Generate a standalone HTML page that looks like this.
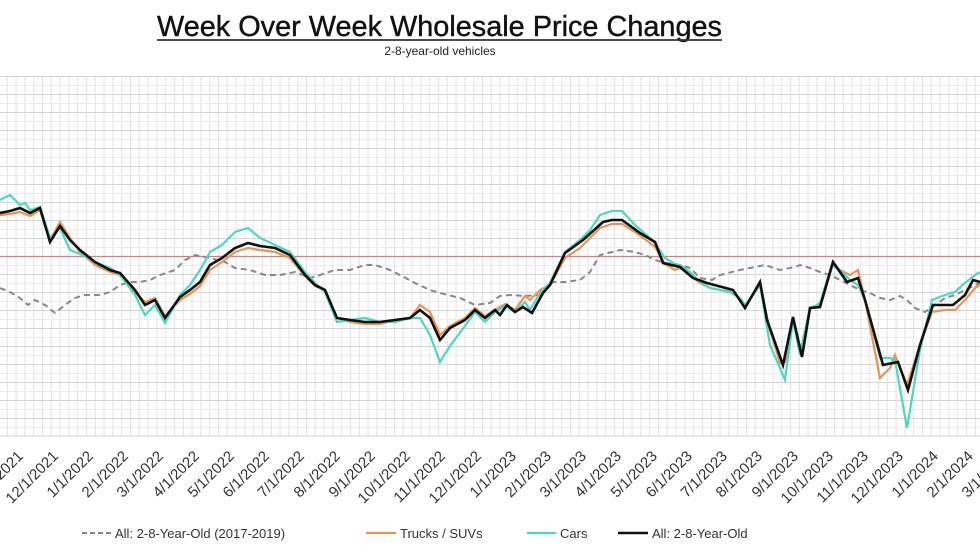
<!DOCTYPE html>
<html><head><meta charset="utf-8"><style>
body{margin:0;background:#fff;width:980px;height:552px;overflow:hidden;font-family:"Liberation Sans",sans-serif}
</style></head><body>
<svg width="980" height="552" xmlns="http://www.w3.org/2000/svg" font-family="Liberation Sans, sans-serif">
<defs>
<pattern id="vg" x="-2" y="0" width="8.8" height="552" patternUnits="userSpaceOnUse"><line x1="0.5" y1="0" x2="0.5" y2="552" stroke="#e2e2e2" stroke-width="1"/></pattern>
<pattern id="hg" x="0" y="4" width="980" height="18" patternUnits="userSpaceOnUse"><line x1="0" y1="0.5" x2="980" y2="0.5" stroke="#d6d6d6" stroke-width="1"/><line x1="0" y1="9.5" x2="980" y2="9.5" stroke="#ededed" stroke-width="1"/></pattern>
</defs>
<rect x="0" y="76" width="980" height="360" fill="url(#vg)"/>
<rect x="0" y="76" width="980" height="360" fill="url(#hg)"/>
<line x1="0" y1="436" x2="980" y2="436" stroke="#d0d0d0"/>
<line x1="0" y1="256.5" x2="980" y2="256.5" stroke="#e07a7a" stroke-width="1.3"/>
<text x="157" y="36" font-size="29" textLength="565" lengthAdjust="spacingAndGlyphs" fill="#111" stroke="#111" stroke-width="0.4">Week Over Week Wholesale Price Changes</text>
<line x1="157" y1="40" x2="722" y2="40" stroke="#333" stroke-width="1.8"/>
<text x="440" y="55" font-size="12" text-anchor="middle" fill="#222">2-8-year-old vehicles</text>

<polyline fill="none" stroke="#888" stroke-width="2" stroke-dasharray="6,4" points="0,288 10,292 20,298 28,305 35,300 45,305 55,313 65,305 75,298 85,295 100,295 110,292 120,285 130,282 140,282 150,280 160,275 175,270 185,260 195,255 210,258 225,262 235,268 250,270 265,275 280,275 295,272 310,278 320,275 335,270 350,270 365,265 375,265 390,270 400,275 415,283 430,290 440,293 460,298 475,305 490,303 500,296 510,295 525,296 540,295 553,282 565,282 580,280 590,272 600,255 612,252 620,250 635,252 645,255 655,260 665,263 680,265 690,268 700,278 712,280 720,275 740,270 750,268 765,265 780,270 795,267 800,265 810,268 820,272 830,275 840,280 850,285 860,290 870,293 880,298 890,300 900,296 907,300 915,308 925,312 935,305 945,298 955,295 965,290 975,285 980,283"/>

<polyline fill="none" stroke="#e8935a" stroke-width="2.2" points="0,215 10,214 20,212 30,216 40,210 50,240 60,222 70,238 80,252 95,265 110,272 120,275 135,292 145,302 155,298 165,316 180,300 190,294 200,286 210,270 222,262 235,252 248,248 260,250 275,252 290,258 305,276 315,286 325,290 337,318 350,322 365,324 380,324 395,320 410,318 420,305 430,312 440,335 450,326 465,318 475,308 485,316 495,310 505,304 515,310 525,296 530,300 540,290 550,285 565,258 580,248 590,238 600,228 612,224 622,224 635,232 650,243 655,247 665,264 675,270 680,268 690,275 700,283 710,288 730,292 740,298 745,306 755,292 760,285 770,330 780,363 785,362 793,318 800,353 810,308 815,308 820,305 832,264 840,270 850,275 858,270 865,300 880,378 890,368 895,355 907,385 920,345 932,312 945,310 955,310 965,300 975,288 980,285"/>

<polyline fill="none" stroke="#4fd6c0" stroke-width="2.2" points="0,200 10,195 20,205 25,203 30,210 40,207 50,238 60,228 70,250 80,254 95,262 110,268 120,275 135,295 145,315 155,305 165,323 180,295 190,285 200,270 210,252 222,245 235,232 248,228 260,238 275,245 290,252 305,272 315,283 325,292 337,322 350,320 365,318 380,322 395,322 410,318 420,318 430,335 440,362 450,346 465,326 475,312 485,322 495,312 505,306 515,312 525,302 530,310 540,293 550,283 565,252 580,240 590,230 600,215 612,211 622,211 635,225 650,238 655,243 665,258 675,264 680,265 690,272 700,282 710,288 730,292 740,298 745,305 755,292 760,285 770,345 780,368 785,380 793,320 800,355 810,308 815,306 820,303 832,265 840,270 850,280 858,285 865,300 880,358 890,358 895,360 907,428 920,350 932,300 945,295 955,292 965,283 975,275 980,272"/>

<polyline fill="none" stroke="#111" stroke-width="2.6" points="0,213 10,211 20,208 30,213 40,208 50,242 60,226 70,240 80,250 95,262 110,270 120,273 135,290 145,305 155,300 165,318 180,297 190,290 200,282 210,265 222,258 235,248 248,243 260,246 275,248 290,255 305,275 315,285 325,290 337,318 350,320 365,322 380,322 395,320 410,318 420,310 430,318 440,340 450,328 465,320 475,310 485,318 495,310 500,315 507,305 515,312 523,307 532,313 543,293 550,285 565,253 583,240 603,222 612,220 622,220 640,233 655,242 663,263 680,267 693,278 707,283 733,290 745,308 760,282 767,320 783,365 793,317 802,357 810,308 820,307 833,262 847,282 858,278 865,300 883,365 898,362 908,390 920,345 933,305 953,305 965,295 973,280 980,282"/>

<g font-size="15" fill="#333">
<text transform="translate(24,457) rotate(-45)" text-anchor="end">11/1/2021</text>
<text transform="translate(59,457) rotate(-45)" text-anchor="end">12/1/2021</text>
<text transform="translate(94,457) rotate(-45)" text-anchor="end">1/1/2022</text>
<text transform="translate(129,457) rotate(-45)" text-anchor="end">2/1/2022</text>
<text transform="translate(164,457) rotate(-45)" text-anchor="end">3/1/2022</text>
<text transform="translate(200,457) rotate(-45)" text-anchor="end">4/1/2022</text>
<text transform="translate(235,457) rotate(-45)" text-anchor="end">5/1/2022</text>
<text transform="translate(270,457) rotate(-45)" text-anchor="end">6/1/2022</text>
<text transform="translate(305,457) rotate(-45)" text-anchor="end">7/1/2022</text>
<text transform="translate(341,457) rotate(-45)" text-anchor="end">8/1/2022</text>
<text transform="translate(376,457) rotate(-45)" text-anchor="end">9/1/2022</text>
<text transform="translate(411,457) rotate(-45)" text-anchor="end">10/1/2022</text>
<text transform="translate(446,457) rotate(-45)" text-anchor="end">11/1/2022</text>
<text transform="translate(482,457) rotate(-45)" text-anchor="end">12/1/2022</text>
<text transform="translate(517,457) rotate(-45)" text-anchor="end">1/1/2023</text>
<text transform="translate(552,457) rotate(-45)" text-anchor="end">2/1/2023</text>
<text transform="translate(587,457) rotate(-45)" text-anchor="end">3/1/2023</text>
<text transform="translate(622,457) rotate(-45)" text-anchor="end">4/1/2023</text>
<text transform="translate(658,457) rotate(-45)" text-anchor="end">5/1/2023</text>
<text transform="translate(693,457) rotate(-45)" text-anchor="end">6/1/2023</text>
<text transform="translate(728,457) rotate(-45)" text-anchor="end">7/1/2023</text>
<text transform="translate(763,457) rotate(-45)" text-anchor="end">8/1/2023</text>
<text transform="translate(799,457) rotate(-45)" text-anchor="end">9/1/2023</text>
<text transform="translate(834,457) rotate(-45)" text-anchor="end">10/1/2023</text>
<text transform="translate(869,457) rotate(-45)" text-anchor="end">11/1/2023</text>
<text transform="translate(904,457) rotate(-45)" text-anchor="end">12/1/2023</text>
<text transform="translate(939,457) rotate(-45)" text-anchor="end">1/1/2024</text>
<text transform="translate(974,457) rotate(-45)" text-anchor="end">2/1/2024</text>
<text transform="translate(1009,457) rotate(-45)" text-anchor="end">3/1/2024</text>
</g>

<g font-size="13" fill="#333">
<line x1="82" y1="533" x2="112" y2="533" stroke="#888" stroke-width="2" stroke-dasharray="5,3"/>
<text x="115" y="538">All: 2-8-Year-Old (2017-2019)</text>
<line x1="366" y1="533" x2="396" y2="533" stroke="#e8935a" stroke-width="2.2"/>
<text x="400" y="538">Trucks / SUVs</text>
<line x1="527" y1="533" x2="556" y2="533" stroke="#4fd6c0" stroke-width="2.2"/>
<text x="560" y="538">Cars</text>
<line x1="618" y1="533" x2="648" y2="533" stroke="#111" stroke-width="2.6"/>
<text x="652" y="538">All: 2-8-Year-Old</text>
</g>
</svg>
</body></html>
